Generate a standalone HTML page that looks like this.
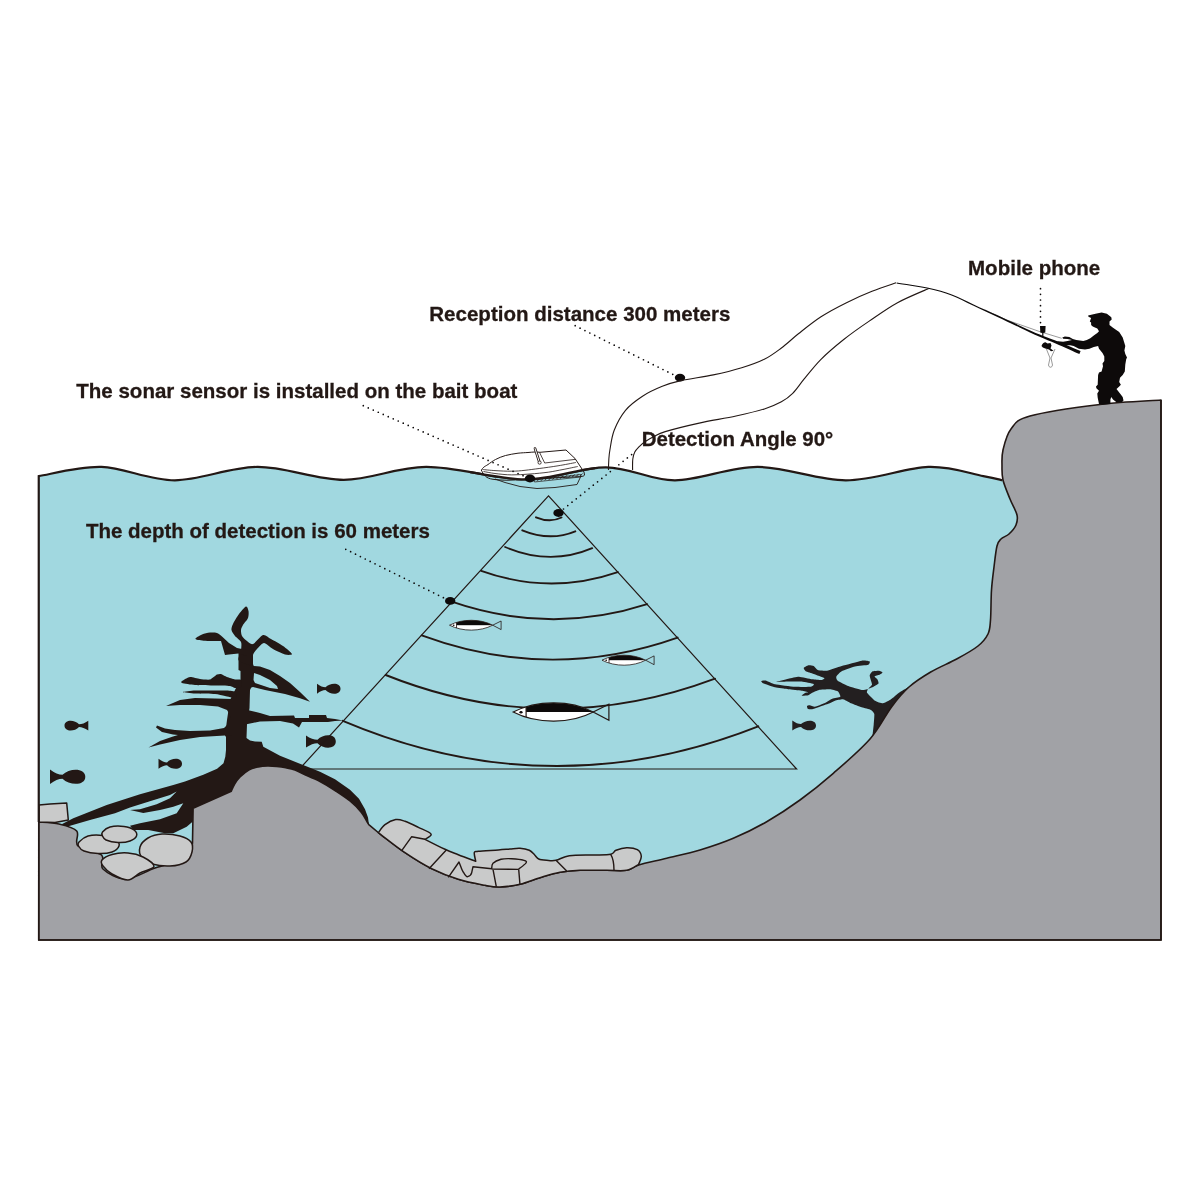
<!DOCTYPE html>
<html><head><meta charset="utf-8"><style>
html,body{margin:0;padding:0;background:#fff;}
body{width:1200px;height:1200px;overflow:hidden;position:relative;}
svg{position:absolute;left:0;top:0;}
.t{position:absolute;font-family:"Liberation Sans",sans-serif;font-weight:bold;color:#231815;white-space:nowrap;line-height:1;}
</style></head><body>
<svg width="1200" height="1200" viewBox="0 0 1200 1200">
<defs><filter id="gaa" filterUnits="userSpaceOnUse" x="0" y="0" width="1200" height="1200"><feOffset dx="0" dy="0"/></filter><clipPath id="boatclip"><rect x="470" y="440" width="125" height="50"/></clipPath></defs>
<rect width="1200" height="1200" fill="#fff"/>
<path d="M38.8,476.1C49.2,474.6 78.8,466.2 101.5,466.9C124.2,467.6 148.8,480.3 174.8,480.3C200.8,480.3 229.3,467 257.5,466.9C285.6,466.8 315.6,479.8 343.7,479.8C371.8,479.8 396,467 426.2,466.9C456.4,466.8 495,479.2 525,479.3C555,479.4 581,467.1 606,467.3C631,467.5 649.8,480.4 675,480.3C700.2,480.2 729,466.9 757.5,466.9C786,466.9 817.3,480.3 845.8,480.3C874.3,480.3 905.4,467.6 928.3,466.9C951.2,466.2 970.9,473.9 983.3,476.1C995.7,478.3 999.3,479.5 1002.5,480.2L1025,480L1025,940L38.75,940Z" fill="#a1d8e0"/>
<path d="M238.5,650 L246,648 L253,652 L253,664 L254,667 L252,686 L250,690 L249.5,708 L247,724 L246.5,738 L250,740.5 L255,741.5 L261.7,741.7 L263.3,746.7 L280,755.7 L290,759.8 L305,765.8 L320,771.8 L335,779.2 L350,789.8 L359,798.8 L365,809.2 L368,817.5 L369,825 L365,830 L300,800 L240,800 L200,812 L192.5,821.7 L186.7,826.7 L173.3,833.3 L165,833.3 L148.3,830 L133.3,830 L130,825.8 L140,823.3 L160,819.2 L176.7,813.3 L183.3,803.3 L173.3,806.7 L160,810 L143.3,813 L130,810 L140,809.2 L156.7,804.2 L170,798.3 L176.7,791.5 L170,795 L148.3,801.7 L130,807.5 L115,813.3 L90,820 L66.7,826.7 L58.3,826 L73.3,818.3 L106.7,805 L140,794.2 L173.3,785 L185,781.6 L203.3,774.7 L217.1,768.8 L223.5,763.2 L225.3,756.8 L226,750 L226,737 L225,735.5 L227,720 L230,700 L236,688 L240.5,680 L240.5,671 L238.5,670Z" fill="#231815" fill-rule="evenodd"/>
<path d="M246,606.5C247.3,606.1 248.2,609.5 248.5,611C248.8,612.5 248.7,616.1 248,618C247.3,619.9 243.9,623.4 243,625C242.1,626.6 241.1,628.5 241,630C240.9,631.5 241.2,634.5 242,636C242.8,637.5 245.5,639.9 247,641C248.5,642.1 250.9,644.8 253,644C255.1,643.2 260.6,635.7 263,635C265.4,634.3 268.3,637.5 271,639C273.7,640.5 280.2,644 283,646C285.8,648 291.7,652.9 292,654C292.3,655.1 287.5,655.2 285,654.5C282.5,653.8 275.8,650.5 273,649C270.2,647.5 266.1,643 264,643C261.9,643 258.5,647.4 257,649C255.5,650.6 253.6,653 253,655C252.4,657 253.4,662.8 252.5,664C251.6,665.2 247.9,664.5 246,664C244.1,663.5 239.2,661.9 238.5,660C237.8,658.1 240.7,652.4 241,650C241.3,647.6 241.8,643.9 241,642C240.2,640.1 236.3,637.6 235,636C233.7,634.4 231.8,631.6 231.5,630C231.2,628.4 232,626.1 233,624C234,621.9 237.3,616.3 239,614C240.7,611.7 244.7,606.9 246,606.5Z" fill="#231815" fill-rule="evenodd"/>
<path d="M222,636.5C221.2,635.9 219,633.6 217,633C215,632.4 212.5,632.4 210,632.6C207.5,632.9 204.4,633.4 202,634.5C199.6,635.6 195,638 195.5,639C196,640 201.9,640.5 205,640.8C208.1,641.1 211.3,641 214,641C216.7,641 219.8,641 221,641L225,655L229,654.5L238.5,653.5L247,656L247,650L237,648L229,643L222,636.5Z" fill="#231815" fill-rule="evenodd"/>
<path d="M249,665 L254,666 L260,666.5 L270,670 L280,676 L290,683 L300,692 L310,701.7 L300,698.3 L285,694 L265,690 L253,687 L249,688ZM254,673 L260,675 L270,680 L277,686 L278,689 L270,688 L255,683 L253.5,680Z" fill="#231815" fill-rule="evenodd"/>
<path d="M182,681C182.8,680.4 188.2,677.2 190,677C191.8,676.8 198,678.8 200,679C202,679.2 208.3,680 210,679.5C211.7,679 215.9,675 217,674.5C218.1,674 220,673.8 221,674C222,674.2 225.6,676.5 227,677C228.4,677.5 233.6,679.2 235,679.5C236.4,679.8 240.4,679.2 241,680C241.6,680.8 241.6,686.2 241,687C240.4,687.8 236.1,688.1 235,688C233.9,687.9 232,686.2 230,686C228,685.8 218.5,685.6 215,685.5C211.5,685.4 198.3,685.2 195,685C191.7,684.8 183.3,683.4 182,683C180.7,682.6 181.2,681.6 182,681Z" fill="#231815" fill-rule="evenodd"/>
<path d="M183,692C183,691.7 191.8,690.6 195,690.5C198.2,690.4 211.8,690.5 215,690.5C218.2,690.5 224.9,690.4 227,690.5C229.1,690.6 235.1,691.2 236,692C236.9,692.8 237.1,697.6 236,698C234.9,698.4 227.1,696.4 225,696C222.9,695.6 218,694.2 215,694C212,693.8 198.2,693.7 195,693.5C191.8,693.3 183,692.3 183,692Z" fill="#231815" fill-rule="evenodd"/>
<path d="M166,706 L180,700 L195,698 L215,698.5 L232,699 L232,735 L225,735.5 L200,737 L180,740 L160,744.5 L148.5,747.5 L160,741 L173,736.5 L178,735 L173,734.5 L162,732 L156,727.5 L157,725.5 L165,728.5 L175,730 L190,731 L210,730.5 L224,728 L229,723 L230.5,716 L227,710 L218,706.5 L200,705 L180,705Z" fill="#231815" fill-rule="evenodd"/>
<path d="M243,709 L260,713 L270,716 L294,715.5 L295,718 L309,718 L309,715 L326,715 L327,718 L335,719 L343,720.5 L335,721 L328,722 L302,722 L299,727.5 L293,723.5 L280,721 L260,721.5 L243,725Z" fill="#231815" fill-rule="evenodd"/>
<path d="M872.3,745C871.7,744 872.2,739.7 872.3,738C872.4,736.3 873.5,726.7 873.7,724.7C873.9,722.7 874.5,715.2 874.3,714C874.1,712.8 872,710.6 871,710C870,709.4 863.4,707.9 861.7,707.3C860,706.7 852.6,704 851,703.3C849.4,702.6 844.3,699.5 843,699.3C841.7,699.1 836.1,700.4 835,700.7C833.9,701 830.8,702.9 829.7,703.3C828.6,703.7 823.2,705.5 821.7,706C820.2,706.5 813.5,709.1 812.3,709.3C811.1,709.5 808.1,709 807.7,708.7C807.3,708.4 806.8,706.3 807,706C807.2,705.7 809,705.2 809.7,705.3C810.4,705.4 813.8,706.9 815,706.7C816.2,706.5 822.9,704 824.3,703.3C825.7,702.6 831,699.2 832.3,698.7C833.6,698.2 839.8,697.3 840.3,696.7C840.8,696.1 838.6,691.9 837.7,691.3C836.8,690.7 831.3,689.4 829.7,689.3C828.1,689.2 820.5,689.7 819,690C817.5,690.3 813.2,692.3 812.3,692.7C811.4,693.1 809.2,695 808.3,695.3C807.4,695.6 802,696 801.7,695.8C801.4,695.6 804.5,693.3 805,693C805.5,692.7 808.6,692.4 808.3,692.2C808,692 803.4,690.9 801.7,690.7C800,690.5 790.5,689.6 788.3,689.3C786.1,689 777.1,687.8 775,687.3C772.9,686.8 764.1,683.8 763,683.3C761.9,682.8 761,681.2 761.2,681C761.4,680.8 764.6,680.2 765.7,680.5C766.9,680.8 772.6,683.7 775,684.2C777.4,684.7 792,686.6 795,686.8C798,687 809.4,687 811,686.8C812.6,686.6 814.5,684.4 813.7,684C812.9,683.6 803.8,681.8 801.7,681.6C799.6,681.4 790.4,681.6 788.3,681.6C786.2,681.6 776.3,682.2 776.3,682C776.3,681.8 786.4,679.1 788.3,678.7C790.2,678.3 797,676.7 799,676.7C801,676.8 810.4,679 812.3,679.3C814.2,679.6 820.7,680.1 821.7,680C822.7,679.9 825,678.5 824.3,678C823.6,677.5 815.2,674.6 813.7,674C812.2,673.4 806.5,671.8 805.7,671.3C804.9,670.8 803.5,668.5 803.7,668C803.9,667.5 807.5,665.5 808.3,665.3C809.1,665.1 812.9,665.6 813.7,666C814.5,666.4 816.6,669.6 817.7,670C818.8,670.4 825,671 827,670.7C829,670.4 838.8,666.8 841.7,666C844.6,665.2 859.4,661.1 861.7,660.7C864,660.3 869.2,661.2 869.7,661.5C870.2,661.8 869.5,664.3 868.3,664.7C867.1,665.1 857.2,666 855,666.5C852.8,667 843.3,670.4 841.7,671.3C840.1,672.1 836.6,675.9 836.3,676.7C836,677.5 836.7,679.9 837.7,680.7C838.7,681.5 846.3,685.2 848.3,686C850.3,686.8 860.1,689.7 861.7,690C863.3,690.3 866.1,689.5 867,689.3C867.9,689 872,687.5 873,687C874,686.5 878.1,684.1 878.5,683.5C878.9,682.9 877.8,680.1 877.5,679.5C877.2,678.9 874.3,676.9 874.5,676.5C874.7,676.1 878.8,675.1 879.5,674.8C880.2,674.5 882.5,672.8 882.5,672.5C882.5,672.2 879.9,670.9 879,670.8C878.1,670.7 873.1,671.1 872.3,671.5C871.5,671.9 869.8,674.5 869.7,675.3C869.6,676.1 870.8,679.9 871,680.7C871.2,681.5 872.2,684 872,684.7C871.8,685.4 868.7,688 868.3,688.7C867.9,689.4 866.4,691.7 867,692.7C867.6,693.7 873.7,699.8 875,700.7C876.3,701.6 881.7,703.4 883,703.3C884.3,703.2 889.7,700.2 891,699.3C892.3,698.4 897.6,693.7 899,692.7C900.4,691.7 907.1,687.9 908.3,687.3C909.5,686.7 912.7,684.2 913.7,685.3C914.7,686.4 922.8,694.6 920,700C917.2,705.4 884,746.2 880,750C876,753.8 872.9,746 872.3,745Z" fill="#231f20"/>
<path d="M38.8,822C42.1,822.3 52.7,822.5 59,824C65.3,825.5 73.5,827.3 76.7,831C79.9,834.7 73.9,842 78,846C82.1,850 97.3,851.2 101.5,855C105.7,858.8 98.9,865 103,869C107.1,873 117.3,879.2 126,879C134.7,878.8 144.8,871.6 155,868C165.2,864.4 181.2,861.7 187.5,857.5C193.8,853.3 191.7,845.4 192.5,843L193.1,808.2L231.3,791.2C231.8,790.1 233.1,786.7 234.5,784.3C235.9,781.9 237.6,779.4 240,777C242.4,774.6 246.1,771.4 249.2,769.7C252.2,768 255.2,767.5 258.3,766.9C261.4,766.3 264.4,766.1 267.5,766C270.6,765.9 273.6,766.2 276.7,766.5C279.8,766.8 282.8,767.2 285.8,767.8C288.9,768.4 291.8,768.9 295,770.1C298.2,771.3 300.8,772.9 305,774.8C309.2,776.6 315,778.9 320,781.5C325,784.1 330,787.2 335,790.5C340,793.8 345.6,797.4 350,801C354.4,804.6 358.4,808.8 361.2,812.2C364.1,815.8 366,819.9 367.2,822C368.5,824.1 368.5,824.2 368.8,824.6L380,834C384.2,837.1 396.4,846.9 405,852.7C413.6,858.5 422.8,864.3 431.7,868.7C440.6,873.1 449.4,876.5 458.3,879.3C467.2,882.1 478.1,884 485,885.3C491.9,886.6 494.2,887.2 500,887C505.8,886.8 513.3,885.8 520,884.3C526.7,882.8 533.3,879.7 540,877.7C546.7,875.7 553.3,873.5 560,872.3C566.7,871.1 572.2,870.6 580,870.3C587.8,870 598.9,870.3 606.7,870.3C614.5,870.3 621.4,871.2 626.7,870.3C632,869.4 632,867 638.7,865C645.4,863 656.5,860.8 666.7,858.3C676.9,855.8 688.9,853.3 700,850C711.1,846.7 722.2,843 733.3,838.3C744.4,833.6 755.6,828.1 766.7,821.7C777.8,815.3 788.9,808.1 800,800C811.1,791.9 821.6,783.5 833.3,773.3C845,763.1 860.3,750.1 870,739C879.7,727.9 885.2,715.4 891.7,706.7C898.2,698 902.5,692.8 909,687C915.5,681.2 922.8,676.7 930.7,672C938.7,667.3 948.8,663.3 956.7,659C964.6,654.7 972.8,650.2 978,646C983.2,641.8 985.9,638.3 988,634C990.1,629.7 989.9,627.3 990.5,620C991.1,612.7 990.9,598.8 991.5,590C992.1,581.2 993.1,574.3 994,567C994.9,559.7 995.8,550.7 997,546C998.2,541.3 999,541 1001,539C1003,537 1006.5,536.3 1009,534C1011.5,531.7 1014.7,528.2 1016,525C1017.3,521.8 1018,519.3 1017,515C1016,510.7 1012.3,504.8 1010,499C1007.7,493.2 1004.3,485.5 1003,480C1001.7,474.5 1002,471 1002,466C1002,461 1001.5,456.2 1003,450C1004.5,443.8 1006.5,434.7 1011,429C1015.5,423.3 1015.2,420.1 1030,416C1044.8,411.9 1078.2,407.2 1100,404.5C1121.8,401.8 1150.8,400.8 1161,400L1161,940L38.75,940Z" fill="#a1a2a6" stroke="#231815" stroke-width="1.6" stroke-linejoin="round"/>
<path d="M39,805 L50,804 L66.7,803 L68.3,820 L55,822.5 L39,822Z" fill="#c9caca" stroke="#231815" stroke-width="1.5" stroke-linejoin="round"/>
<path d="M79,842C80.6,840.3 84,837.1 88,836C92,834.9 98.3,834.8 103,835.5C107.7,836.2 113.3,838.2 116,840C118.7,841.8 119.7,844 119,846C118.3,848 115.5,850.8 112,852C108.5,853.2 102.7,853.7 98,853.5C93.3,853.3 87.2,852.2 84,851C80.8,849.8 79.3,847.5 78.5,846C77.7,844.5 77.4,843.7 79,842Z" fill="#c9caca" stroke="#231815" stroke-width="1.5" stroke-linejoin="round"/>
<path d="M102.5,832C103.8,830.5 106.4,827.9 110,827C113.6,826.1 120,826 124,826.5C128,827 131.9,828.4 134,830C136.1,831.6 137.2,834.2 136.5,836C135.8,837.8 133.1,839.9 130,841C126.9,842.1 122,842.7 118,842.5C114,842.3 108.6,841.1 106,840C103.4,838.9 103.1,837.3 102.5,836C101.9,834.7 101.2,833.5 102.5,832Z" fill="#c9caca" stroke="#231815" stroke-width="1.5" stroke-linejoin="round"/>
<path d="M140,847C141,843.7 144.3,840.2 148,838C151.7,835.8 156.7,834.3 162,834C167.3,833.7 175.2,834.7 180,836C184.8,837.3 189,839.3 191,842C193,844.7 192.8,848.7 192,852C191.2,855.3 189.7,859.7 186,862C182.3,864.3 175.7,865.7 170,866C164.3,866.3 156.7,865.3 152,864C147.3,862.7 144,860.8 142,858C140,855.2 139,850.3 140,847Z" fill="#c9caca" stroke="#231815" stroke-width="1.5" stroke-linejoin="round"/>
<path d="M102,860C103.5,858.1 107.7,855.7 112,854.5C116.3,853.3 122.8,852.6 128,853C133.2,853.4 138.7,854.8 143,857C147.3,859.2 154.5,863.8 154,866.5C153.5,869.2 144.3,870.8 140,873C135.7,875.2 132.7,879.8 128,880C123.3,880.2 116.2,876.3 112,874C107.8,871.7 104.7,868.3 103,866C101.3,863.7 100.5,861.9 102,860Z" fill="#c9caca" stroke="#231815" stroke-width="1.5" stroke-linejoin="round"/>
<path d="M378.3,832.7C379.4,831.4 382.1,826.9 385,824.7C387.9,822.5 392.4,820.2 395.7,819.6C399,819 401.2,820 405,821.3C408.8,822.6 414,825.2 418.3,827.3C422.6,829.4 429.9,832 431,834C432.1,836 426,838.4 425,839.3C428.3,841 439.4,846.7 445,849.3C450.6,851.9 453.2,852.7 458.3,854.7C463.4,856.7 472.8,860.2 475.7,861.3C475.5,859.9 473.9,854.4 474.3,852.7C474.7,851 474.3,851.8 478.3,851.3C482.3,850.8 493,850.4 498.3,850C503.6,849.6 506.4,849.3 510,849C513.6,848.7 516.8,848.1 520,848.3C523.2,848.5 526.8,849.2 529.3,850.3C531.8,851.4 533.1,853.5 534.7,855C536.3,856.5 536.7,858.1 538.7,859C540.7,859.9 543.8,860.1 546.7,860.3C549.6,860.5 552.2,861.1 556,860.3C559.8,859.5 563.1,856.6 569.3,855.7C575.5,854.8 586.4,855.2 593.3,855C600.2,854.8 606.9,855.1 610.7,854.3C614.5,853.5 613.3,851.4 616,850.3C618.7,849.2 623.2,847.8 626.7,847.7C630.2,847.6 634.9,848.3 637.3,849.7C639.7,851.1 641.1,853.9 641.3,856.3C641.5,858.7 639.1,863 638.7,864.3C636.7,865.3 632,869.3 626.7,870.3C621.4,871.3 614.5,870.3 606.7,870.3C598.9,870.3 587.8,870 580,870.3C572.2,870.6 566.7,871.1 560,872.3C553.3,873.5 546.7,875.7 540,877.7C533.3,879.7 526.7,882.8 520,884.3C513.3,885.8 505.8,886.8 500,887C494.2,887.2 491.9,886.6 485,885.3C478.1,884 467.2,882.1 458.3,879.3C449.4,876.5 440.6,873.1 431.7,868.7C422.8,864.3 413.9,858.7 405,852.7C396.1,846.7 382.8,836 378.3,832.7Z" fill="#c9caca" stroke="#231815" stroke-width="1.5" stroke-linejoin="round"/>
<path d="M425,839.3L411.7,836.7L401.7,850.7 M446.3,850L429,868.7 M448.3,877.3L459,862C461,867 462,871 463.7,872.7C465,875 467,877 467.7,876.7C470,876 471.5,874 471.7,872.7L473,866.7L491.7,868.7 M491.7,868.7C491.9,867.8 491.4,864.9 493,863.3C494.6,861.7 497.9,860.1 501,859.3C504.1,858.5 507.9,858.5 511.7,858.7C515.5,858.9 521.6,859.6 524,860.3C526.4,861 526.9,861.5 526,863C525.1,864.5 519.9,868 518.7,869 M491.7,869L518.7,869.4 M493,869.3L496.3,886.7 M518.7,869.4L520,885 M556,860.3L566.7,871 M610.7,854.3C613,858 614,864 614,870.3" fill="none" stroke="#231815" stroke-width="1.4" stroke-linejoin="round"/>
<path d="M38.75,822L38.75,476.1C49.2,474.6 78.8,466.2 101.5,466.9C124.2,467.6 148.8,480.3 174.8,480.3C200.8,480.3 229.3,467 257.5,466.9C285.6,466.8 315.6,479.8 343.7,479.8C371.8,479.8 396,467 426.2,466.9C456.4,466.8 495,479.2 525,479.3C555,479.4 581,467.1 606,467.3C631,467.5 649.8,480.4 675,480.3C700.2,480.2 729,466.9 757.5,466.9C786,466.9 817.3,480.3 845.8,480.3C874.3,480.3 905.4,467.6 928.3,466.9C951.2,466.2 970.9,473.9 983.3,476.1C995.7,478.3 999.3,479.5 1002.5,480.2" fill="none" stroke="#231815" stroke-width="2.2"/>
<path d="M38.75,822L38.75,940L1161,940L1161,400" fill="none" stroke="#231815" stroke-width="1.6"/>
<path d="M88.3,720.7Q83.2,724.2 79,724.2C74.7,719.4 64.5,719.1 64.5,725.6C64.5,732.1 74.7,731.8 79,727Q83.2,727 88.3,730.5Z" fill="#231815"/>
<path d="M50,769.4Q56.9,774.7 62.5,774.7C69.3,767.8 85.3,767.5 85.3,776.7C85.3,786 69.3,785.6 62.5,778.7Q56.9,778.7 50,784Z" fill="#231815"/>
<path d="M158.5,758.8Q163.2,762.4 167,762.4C171.5,757.6 182,757.3 182,763.8C182,770.3 171.5,770 167,765.2Q163.2,765.2 158.5,768.8Z" fill="#231815"/>
<path d="M317,683.7Q321.7,687.3 325.5,687.3C330,682.3 340.5,682.1 340.5,688.7C340.5,695.3 330,695.1 325.5,690.1Q321.7,690.1 317,693.7Z" fill="#231815"/>
<path d="M306,735.5Q312.3,739.8 317.5,739.8C323,733.7 335.8,733.4 335.8,741.5C335.8,749.6 323,749.3 317.5,743.2Q312.3,743.2 306,747.5Z" fill="#231815"/>
<path d="M792.3,720.5Q797.1,724.1 801,724.1C805.5,719.5 816,719.2 816,725.5C816,731.8 805.5,731.5 801,726.9Q797.1,726.9 792.3,730.5Z" fill="#231f20"/>
<path d="M548.5,495.8L299.5,769L796.6,769Z" fill="none" stroke="#231815" stroke-width="1.2" stroke-linejoin="miter"/>
<path d="M536,517.3Q550,523.2 561.5,517.5M522.3,530.3Q550,541.8 575.3,531.3M505.1,547Q550,566.2 592.2,548.2M481.2,570.8Q550,595.5 617.8,572.1M451,601.4Q550,635.6 647.2,604.2M421.7,635.4Q550,682.7 677.6,637.6M385.7,675Q550,740.6 715,678.7M342.8,720.8Q550,808.5 758.3,726.3" fill="none" stroke="#231815" stroke-width="1.9" stroke-linecap="round"/>
<clipPath id="fc1"><path d="M513.2,712C537.2,699.6 570.9,700.1 593.2,712C570.9,723.9 537.2,724.4 513.2,712Z"/></clipPath><path d="M513.2,712C537.2,699.6 570.9,700.1 593.2,712C570.9,723.9 537.2,724.4 513.2,712Z" fill="#fff"/><rect x="526.1" y="698.5" width="80" height="13.5" fill="#0d0a0a" clip-path="url(#fc1)"/><path d="M526.1,698.5L526.1,725.5" stroke="#231815" stroke-width="1.2" clip-path="url(#fc1)"/><path d="M513.2,712C537.2,699.6 570.9,700.1 593.2,712C570.9,723.9 537.2,724.4 513.2,712Z" fill="none" stroke="#231815" stroke-width="1.2"/><ellipse cx="521" cy="712.2" rx="1.6" ry="1.3" fill="#0d0a0a"/><path d="M593.2,712L608.9,704.2L608.9,720.2Z" fill="none" stroke="#231815" stroke-width="1.2" stroke-linejoin="miter"/>
<clipPath id="fc2"><path d="M449.5,625.2C462.5,618.5 480.6,618.8 492.7,625.2C480.6,631.6 462.5,631.9 449.5,625.2Z"/></clipPath><path d="M449.5,625.2C462.5,618.5 480.6,618.8 492.7,625.2C480.6,631.6 462.5,631.9 449.5,625.2Z" fill="#fff"/><rect x="456.5" y="617.9" width="43.2" height="7.3" fill="#0d0a0a" clip-path="url(#fc2)"/><path d="M456.5,617.9L456.5,632.5" stroke="#231815" stroke-width="0.8" clip-path="url(#fc2)"/><path d="M449.5,625.2C462.5,618.5 480.6,618.8 492.7,625.2C480.6,631.6 462.5,631.9 449.5,625.2Z" fill="none" stroke="#231815" stroke-width="0.8"/><ellipse cx="453.7" cy="625.3" rx="0.9" ry="0.7" fill="#0d0a0a"/><path d="M492.7,625.2L501.1,621L501.1,629.6Z" fill="none" stroke="#231815" stroke-width="0.8" stroke-linejoin="miter"/>
<clipPath id="fc3"><path d="M602,660.2C615.1,653.4 633.4,653.7 645.6,660.2C633.4,666.7 615.1,667 602,660.2Z"/></clipPath><path d="M602,660.2C615.1,653.4 633.4,653.7 645.6,660.2C633.4,666.7 615.1,667 602,660.2Z" fill="#fff"/><rect x="609" y="652.8" width="43.6" height="7.4" fill="#0d0a0a" clip-path="url(#fc3)"/><path d="M609,652.8L609,667.6" stroke="#231815" stroke-width="0.8" clip-path="url(#fc3)"/><path d="M602,660.2C615.1,653.4 633.4,653.7 645.6,660.2C633.4,666.7 615.1,667 602,660.2Z" fill="none" stroke="#231815" stroke-width="0.8"/><ellipse cx="606.2" cy="660.3" rx="0.9" ry="0.7" fill="#0d0a0a"/><path d="M645.6,660.2L654.1,655.9L654.1,664.7Z" fill="none" stroke="#231815" stroke-width="0.8" stroke-linejoin="miter"/>
<path d="M575.2,325.7L675,375.5" fill="none" stroke="#0d0a0a" stroke-width="1.7" stroke-linecap="round" stroke-dasharray="0 5.45"/>
<path d="M345.75,549.3L446,599" fill="none" stroke="#0d0a0a" stroke-width="1.7" stroke-linecap="round" stroke-dasharray="0 5.45"/>
<path d="M563.5,509L632.7,453.7" fill="none" stroke="#0d0a0a" stroke-width="1.7" stroke-linecap="round" stroke-dasharray="0 5.45"/>
<path d="M1040.5,288.7L1040.5,324" fill="none" stroke="#0d0a0a" stroke-width="1.7" stroke-linecap="round" stroke-dasharray="0 5.65"/>
<ellipse cx="680" cy="377.7" rx="5.2" ry="3.9" fill="#0d0a0a"/>
<ellipse cx="450.2" cy="600.9" rx="5.2" ry="3.9" fill="#0d0a0a"/>
<ellipse cx="558.5" cy="513" rx="5.2" ry="3.9" fill="#0d0a0a"/>
<path d="M608.5,470C608.5,468.3 608.6,463.3 608.8,460C609,456.7 609,455 609.9,450C610.8,445 611.6,436.8 614.2,430.2C616.8,423.6 620.8,416 625.5,410.3C630.2,404.6 636.4,400.2 642.5,396.2C648.6,392.2 655.9,388.9 662.3,386.3C668.7,383.7 672.3,382.5 680.8,380.6C689.3,378.7 703.1,377 713.3,374.9C723.4,372.8 733.2,370.4 741.7,367.8C750.2,365.2 757.7,362.6 764.3,359.3C770.9,356 775.7,352.2 781.4,348C787.1,343.8 791.8,339 798.4,333.8C805,328.6 813,322 821,316.8C829,311.6 838,306.9 846.5,302.7C855,298.4 863.7,294.6 872,291.3C880.3,288 892.1,284.2 896.1,282.8" fill="none" stroke="#231815" stroke-width="1.1"/>
<path d="M632.6,470C632.6,468.2 632.4,462 632.8,459C633.2,456 633.7,454.1 634.8,452C635.9,449.9 637.8,448.1 639.5,446.3C641.2,444.6 642.9,443.1 645.3,441.5C647.7,439.9 650.7,438.1 654,436.5C657.3,434.9 657.7,433.8 665.2,431.6C672.7,429.4 687.4,425.7 699.2,423.1C711,420.5 725.1,418.4 736,416C746.9,413.6 756.8,411.3 764.4,408.9C772,406.5 776.7,404.4 781.4,401.8C786.1,399.2 788.9,397.1 792.7,393.3C796.5,389.5 799.3,384.9 804,379.2C808.7,373.5 814.4,365.9 821,359.3C827.6,352.7 835.7,345.9 843.7,339.5C851.7,333.1 860.2,327.2 869.2,321.1C878.2,315 887.6,308.1 897.5,302.7C907.4,297.3 923.5,290.9 928.7,288.5" fill="none" stroke="#231815" stroke-width="1.1"/>
<path d="M985,310L1006.7,320L1040,331.7L1061.7,338.3" fill="none" stroke="#555" stroke-width="0.6"/>
<path d="M896.6,283.5C901.9,284.4 919,286.8 928.2,288.8C937.3,290.8 944,292.7 951.5,295.5C959,298.3 965.6,302.1 973,305.6C980.5,309.1 988.6,312.8 996.4,316.5C1004.2,320.1 1012.4,324.1 1019.6,327.5C1026.8,330.9 1033.5,334.1 1039.6,336.8C1045.7,339.5 1049.6,340.9 1056.2,343.7C1062.8,346.6 1075.5,352.3 1079.4,354L1080.6,351C1076.7,349.4 1063.9,344 1057.2,341.3C1050.5,338.6 1046.6,337.4 1040.4,334.8C1034.3,332.2 1027.6,329.2 1020.4,325.9C1013.1,322.6 1004.8,318.7 997,315.1C989.2,311.6 981.1,307.9 973.6,304.4C966,301 959.4,297.3 951.9,294.5C944.4,291.7 937.6,289.8 928.4,287.8C919.2,285.8 902.1,283.4 896.8,282.5Z" fill="#0d0a0a"/>
<path d="M1088.1,315.5 L1095.5,313.8 L1101.6,312.4 L1106.9,313.8 L1111.3,317.2 L1111.7,319.4 L1109.5,321.6 L1109.5,325.1 L1113,327.8 L1119.2,332.1 L1122.7,337.4 L1124,341.8 L1125.3,346.1 L1124.4,350.5 L1125.3,354 L1127,357.5 L1126.2,359.3 L1125.3,364.5 L1124.8,371.5 L1122.7,375 L1120,377.7 L1119.2,382 L1120.9,384.7 L1119.2,386.4 L1116.5,389 L1120,393.4 L1122.7,396.9 L1123.5,400.4 L1121.8,402.2 L1116.5,402.2 L1113,399.5 L1111.3,396.9 L1110.4,399.5 L1110.4,403.9 L1102.5,404.8 L1099,403.9 L1097.7,397.8 L1097.3,393.4 L1099,390.8 L1096.4,388.2 L1096,386.4 L1097.7,384.7 L1098.1,375 L1099,372.4 L1101.6,371.5 L1103,366.3 L1102.5,363.6 L1104.3,361 L1104.3,356.6 L1102.5,353.1 L1099,348.8 L1098.1,346.1 L1093.8,347 L1089.4,348.8 L1085,349.6 L1078.9,348.8 L1073.6,346.1 L1070.1,345.3 L1065.8,345.3 L1058.8,344 L1056.1,342.6 L1057.9,341.3 L1063.1,341.8 L1067.5,340.9 L1071.9,340 L1067.5,339.1 L1063.1,338.7 L1062.3,337.4 L1064.9,336.5 L1069.3,337 L1072.8,339.1 L1076.3,340 L1083.3,340.9 L1086.8,340 L1090.3,338.3 L1093.8,335.6 L1097.3,333 L1099,331.3 L1097.3,328.6 L1093.8,326.9 L1092,326 L1091.1,324.7 L1091.1,322.5 L1089.8,321.6 L1090.3,320.3 L1091.1,318.1 L1088.5,316.8Z" fill="#0d0a0a"/>
<path d="M1040,326L1045.6,326L1045.3,332.5L1043.4,333L1043.4,336L1042.2,336L1042.2,333L1040.3,332.5Z" fill="#0d0a0a"/>
<path d="M1041.5,346C1042,343.5 1044,342.5 1045.5,342.2L1047.5,343.5L1050.5,343L1051.5,345.5L1050.5,348.5L1053.5,350.8L1051,351.3L1049,349.5C1046,348.8 1043,348.3 1041.5,346Z" fill="#0d0a0a"/>
<path d="M1046,348L1050,358L1048.5,365C1049,368 1052,368 1052.5,365L1051,358L1055,349" fill="none" stroke="#555" stroke-width="0.6"/>
<path d="M495,479L505,482.5L520,486.5L537,488.5L555,487.5L577,484.5L580.5,477" fill="none" stroke="#231815" stroke-width="0.9"/>
<path d="M534,480L581,474.5L580.5,477L534.5,482Z" fill="none" stroke="#231815" stroke-width="0.7"/>
<path d="M537,481.3L539.6,478.5M540.9,480.9L543.5,478.1M544.8,480.4L547.4,477.6M548.7,480L551.3,477.2M552.6,479.5L555.2,476.7M556.5,479L559.1,476.2M560.4,478.6L563,475.8M564.3,478.1L566.9,475.3M568.2,477.7L570.8,474.9M572.1,477.2L574.7,474.4M576,476.7L578.6,473.9M579.9,476.3L582.5,473.5" stroke="#231815" stroke-width="0.8"/>
<clipPath id="abovewave"><path d="M0,0L1200,0L1200,480L1002.5,480.2L1002.5,480.2C999.3,479.5 995.7,478.3 983.3,476.1C970.9,473.9 951.2,466.2 928.3,466.9C905.4,467.6 874.3,480.3 845.8,480.3C817.3,480.3 786,466.9 757.5,466.9C729,466.9 700.2,480.2 675,480.3C649.8,480.4 631,467.5 606,467.3C581,467.1 555,479.4 525,479.3C495,479.2 456.4,466.8 426.2,466.9C396,467 371.8,479.8 343.7,479.8C315.6,479.8 285.6,466.8 257.5,466.9C229.3,467 200.8,480.3 174.8,480.3C148.8,480.3 124.2,467.6 101.5,466.9C78.8,466.2 49.2,474.6 38.8,476.1L0,476Z"/></clipPath>
<path d="M481.2,470C481.7,469.5 482.9,467.9 484,467C485.1,466.1 486.1,465.8 488,464.5C489.9,463.2 492.6,461 495.5,459.5C498.4,458 501.8,456.5 505.5,455.5C509.2,454.5 514.2,453.8 518,453.2C521.8,452.8 525.2,452.7 528,452.5C530.8,452.3 533,452 535,452C537,452 539.2,452.2 540,452.3L566,450L575,458.5L580,466L584,472L584.5,475C583.9,475.2 585.1,476.1 581,476.5C576.9,476.9 567.2,477.2 560,477.6C552.8,478 544.2,478.5 538,478.8C531.8,479.1 528,479.3 523,479.5C518,479.7 513,480.2 508,480.2C503,480.2 496.8,479.9 493,479.3C489.2,478.7 487.5,477.9 485.5,476.3C483.5,474.8 482,471.1 481.2,470Z" fill="#fff" clip-path="url(#abovewave)"/>
<path d="M481.2,470C481.7,469.5 482.9,467.9 484,467C485.1,466.1 486.1,465.8 488,464.5C489.9,463.2 492.6,461 495.5,459.5C498.4,458 501.8,456.5 505.5,455.5C509.2,454.5 514.2,453.8 518,453.2C521.8,452.8 525.2,452.7 528,452.5C530.8,452.3 533,452 535,452C537,452 539.2,452.2 540,452.3L566,450L575,458.5L580,466L584,472L584.5,475C583.9,475.2 585.1,476.1 581,476.5C576.9,476.9 567.2,477.2 560,477.6C552.8,478 544.2,478.5 538,478.8C531.8,479.1 528,479.3 523,479.5C518,479.7 513,480.2 508,480.2C503,480.2 496.8,479.9 493,479.3C489.2,478.7 487.5,477.9 485.5,476.3C483.5,474.8 482,471.1 481.2,470Z" fill="none" stroke="#231815" stroke-width="1" stroke-linejoin="round"/>
<path d="M482.5,469.5C484.6,469.7 490.1,470.3 495,470.6C499.9,470.9 506.7,471.3 511.7,471.2C516.7,471.2 520.4,470.8 525,470.3C529.6,469.8 533.7,469.2 539.2,468.5C544.7,467.8 551.9,466.8 558,465.8C564.1,464.8 572.8,463.1 575.8,462.5M483.5,471.5C485.4,471.8 490.3,472.9 495,473.5C499.7,474.1 505.9,474.8 511.7,474.9C517.5,475 523.9,474.4 530,474C536.1,473.6 542.8,472.9 548.3,472.2C553.8,471.4 558.1,470.4 563,469.5C567.9,468.6 575.2,467 577.7,466.5M539.5,452.3L544.7,463L575.8,459.3" fill="none" stroke="#231815" stroke-width="0.8"/>
<path d="M535,448.5L539.5,462.5" stroke="#231815" stroke-width="2.6" stroke-linecap="round"/><path d="M535,448.5L539.5,462.5" stroke="#fff" stroke-width="1" stroke-linecap="round"/>
<circle cx="539.6" cy="462.6" r="1.6" fill="#fff" stroke="#231815" stroke-width="0.8"/>
<path d="M38.8,476.1C49.2,474.6 78.8,466.2 101.5,466.9C124.2,467.6 148.8,480.3 174.8,480.3C200.8,480.3 229.3,467 257.5,466.9C285.6,466.8 315.6,479.8 343.7,479.8C371.8,479.8 396,467 426.2,466.9C456.4,466.8 495,479.2 525,479.3C555,479.4 581,467.1 606,467.3C631,467.5 649.8,480.4 675,480.3C700.2,480.2 729,466.9 757.5,466.9C786,466.9 817.3,480.3 845.8,480.3C874.3,480.3 905.4,467.6 928.3,466.9C951.2,466.2 970.9,473.9 983.3,476.1C995.7,478.3 999.3,479.5 1002.5,480.2" fill="none" stroke="#231815" stroke-width="2.2" clip-path="url(#boatclip)"/>
<path d="M363.3,405.7L526,477" fill="none" stroke="#0d0a0a" stroke-width="1.7" stroke-linecap="round" stroke-dasharray="0 5.45"/>
<ellipse cx="530" cy="478.5" rx="5.2" ry="3.9" fill="#0d0a0a"/>
<g filter="url(#gaa)">
<text x="968" y="275" font-family="Liberation Sans" font-weight="bold" font-size="21" fill="#231815" stroke="#231815" stroke-width="0.3" textLength="132.3" lengthAdjust="spacingAndGlyphs">Mobile phone</text>
<text x="429.3" y="321" font-family="Liberation Sans" font-weight="bold" font-size="21" fill="#231815" stroke="#231815" stroke-width="0.3" textLength="301.1" lengthAdjust="spacingAndGlyphs">Reception distance 300 meters</text>
<text x="76.3" y="398" font-family="Liberation Sans" font-weight="bold" font-size="21" fill="#231815" stroke="#231815" stroke-width="0.3" textLength="441.1" lengthAdjust="spacingAndGlyphs">The sonar sensor is installed on the bait boat</text>
<text x="641.8" y="445.8" font-family="Liberation Sans" font-weight="bold" font-size="21" fill="#231815" stroke="#231815" stroke-width="0.3" textLength="191.5" lengthAdjust="spacingAndGlyphs">Detection Angle 90°</text>
<text x="85.9" y="538" font-family="Liberation Sans" font-weight="bold" font-size="21" fill="#231815" stroke="#231815" stroke-width="0.3" textLength="344.0" lengthAdjust="spacingAndGlyphs">The depth of detection is 60 meters</text>
</g>
</svg>

</body></html>
